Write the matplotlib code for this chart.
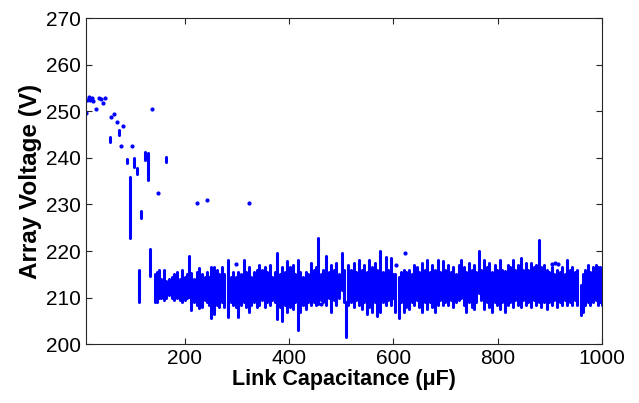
import matplotlib
matplotlib.use('Agg')
import matplotlib.pyplot as plt

# dense band of voltage ranges (min / max per capacitance value)
band_cap = [113, 134, 143, 147, 151, 155, 160, 165, 170, 175, 180, 185, 190, 195,
            200, 204, 208, 213, 218, 223, 228, 233, 238, 243, 247, 251, 256, 261,
            266, 271, 276, 283, 288, 293, 298, 303, 308, 313, 318, 323, 328, 333,
            338, 343, 348, 353, 358, 363, 368, 373, 377, 382, 387, 392, 397, 402,
            407, 412, 417, 422, 427, 432, 437, 442, 447, 452, 456, 461, 466, 471,
            476, 481, 486, 491, 496, 501, 505, 509, 514, 519, 524, 529, 534, 539,
            544, 549, 554, 559, 564, 569, 575, 580, 585, 590, 595, 600, 604, 610,
            615, 620, 625, 630, 635, 640, 645, 650, 655, 660, 665, 670, 675, 680,
            685, 690, 695, 700, 705, 710, 715, 720, 725, 730, 735, 740, 745, 750,
            755, 759, 764, 769, 774, 779, 784, 789, 794, 799, 804, 809, 814, 819,
            824, 829, 834, 839, 844, 849, 854, 859, 864, 869, 874, 879, 884, 889,
            894, 899, 904, 909, 914, 919, 924, 929, 933, 938, 943, 948, 953, 959,
            963, 968, 973, 978, 983, 988, 993, 997, 1000]
band_lo = [209, 214.6, 209, 209, 210, 210, 209.5, 210, 210.5, 210, 209.5, 210, 209.5, 209,
           209.5, 210, 210.2, 207.3, 209, 208.5, 207.7, 208, 209.5, 209, 208.5, 205.6, 206.5, 208.5,
           208, 209, 208, 205.9, 209, 208.5, 208, 205.9, 208.5, 209, 208, 207, 208.5, 209,
           208, 208.5, 209.5, 208, 209, 208.5, 209.5, 209, 205.5, 208, 205, 208.5, 207, 208,
           207.5, 209, 203, 207, 208.5, 207.5, 209, 208.5, 209, 208.5, 208.7, 209.5, 209, 208.4,
           210, 207, 209.5, 208.5, 210, 211.6, 209, 201.6, 208.5, 209, 208, 209.5, 208.4, 207.5,
           209, 206.5, 208, 207, 209, 206, 207, 209, 208.5, 209.5, 208.5, 210, 207, 205.6,
           209, 207, 208, 207.5, 209, 208.4, 209.5, 208, 207, 209, 207.5, 209, 208, 207,
           208.5, 209.5, 208.4, 209, 208.5, 209.5, 208, 209, 209.5, 210, 208.5, 207, 209, 208,
           207.5, 209, 211, 209.5, 207.5, 209, 208, 207, 209, 208.5, 207.5, 209, 207, 208.5,
           209, 208, 209.5, 208.5, 208, 209.5, 208.5, 209, 208, 209.5, 208.5, 209, 208, 209,
           207.5, 209, 208.5, 209.5, 208, 209, 208.5, 209.5, 208.4, 209, 208.5, 209.5, 208.5, 206.2,
           207, 208.4, 209, 208.5, 209, 209.5, 208.4, 209, 208.5]
band_hi = [216, 220.5, 215, 215.5, 216, 214, 216, 213.5, 214, 214.5, 215, 215.5, 214, 216,
           214.5, 215, 218.9, 215.2, 214, 215.5, 216.3, 215, 214.5, 215.5, 214.5, 216.6, 216.6, 216,
           215, 216.5, 215, 218, 214.5, 215.5, 214.5, 215.6, 215, 218, 215.5, 216.6, 214.5, 215.5,
           216, 217, 216, 216.5, 215.5, 217, 214.5, 215.5, 219.5, 215, 216.6, 215.5, 217.8, 216.5,
           217, 215, 218, 215.6, 214.5, 215.6, 215, 217.5, 216, 216.5, 222.9, 215, 216, 219,
           215.5, 217, 216, 217.5, 215, 219.5, 216, 209.1, 217, 216, 217.5, 215.5, 218, 216,
           217, 215.5, 218, 216.5, 217.5, 216, 220, 215.5, 218.7, 216, 218.5, 215, 215, 214.5,
           215.5, 216, 215.5, 216, 215, 217, 216.5, 215.5, 217.5, 216, 218, 215.5, 217, 216,
           218, 215.5, 217.8, 216, 217, 215.5, 216.5, 215, 217, 218, 216.5, 215.5, 217.5, 216,
           217, 215.5, 220, 216, 218, 216.5, 217.5, 215.5, 217, 216, 218, 216, 215.8, 217,
           216.5, 218, 216, 217, 218.5, 216, 217.5, 216, 217.5, 216.5, 217, 222.3, 216.5, 217,
           216, 215.5, 216.5, 215, 216, 215.5, 216.5, 215, 218, 216, 216.5, 215.5, 216, 212.7,
           215, 216, 217, 215.5, 216.5, 217, 216.5, 216.6, 216]

# short segments at low capacitance
seg_cap = [56, 74, 90, 95, 102, 109, 117, 124, 129, 165]
seg_lo = [243.5, 245, 239, 222.7, 238, 236.5, 227, 239.5, 235.3, 239.2]
seg_hi = [244.5, 246, 239.8, 235.9, 240, 237.8, 228.5, 241.3, 241, 240.2]

# isolated points
dot_cap = [10, 13, 16, 19, 22, 25, 30, 36, 40, 44, 48, 59, 64, 70, 78, 82, 98,
           137, 148, 223, 242, 323, 299, 461, 606, 622, 905, 910, 915]
dot_v = [249.6, 252.5, 253, 252.5, 252.8, 252.3, 250.5, 252.8, 252.6, 251.8, 252.8,
         248.7, 249.4, 247.6, 242.5, 246.8, 242.5, 250.5, 232.4, 230.3, 230.9, 230.3,
         217.3, 208.7, 217, 219.5, 217.2, 217.4, 217.2]

plt.rcParams['font.family'] = ['Liberation Sans', 'DejaVu Sans']

fig = plt.figure(figsize=(6.39, 4.03), dpi=100)
ax = fig.add_axes([0.134, 0.146, 0.808, 0.809])

blue = '#0000ff'
lc = ax.vlines(band_cap, band_lo, band_hi, colors=blue, linewidth=2.2)
lc.set_capstyle('round')
lc2 = ax.vlines(seg_cap, seg_lo, seg_hi, colors=blue, linewidth=2.2)
lc2.set_capstyle('round')
ax.plot(dot_cap, dot_v, '.', color=blue, markersize=4)

ax.set_xlim(10, 1000)
ax.set_ylim(200, 270)
ax.set_xticks([200, 400, 600, 800, 1000])
ax.set_yticks(range(200, 271, 10))
ax.tick_params(direction='in', top=True, right=True, length=4, width=0.8,
               labelsize=15, colors='#262626', labelcolor='black')
for s in ax.spines.values():
    s.set_color('#262626')
    s.set_linewidth(0.8)

ax.set_xlabel('Link Capacitance (\u03bcF)', fontsize=15.5, fontweight='bold', labelpad=1)
ax.set_ylabel('Array Voltage (V)', fontsize=17.5, fontweight='bold', labelpad=3)

plt.savefig('out.png', dpi=100)
